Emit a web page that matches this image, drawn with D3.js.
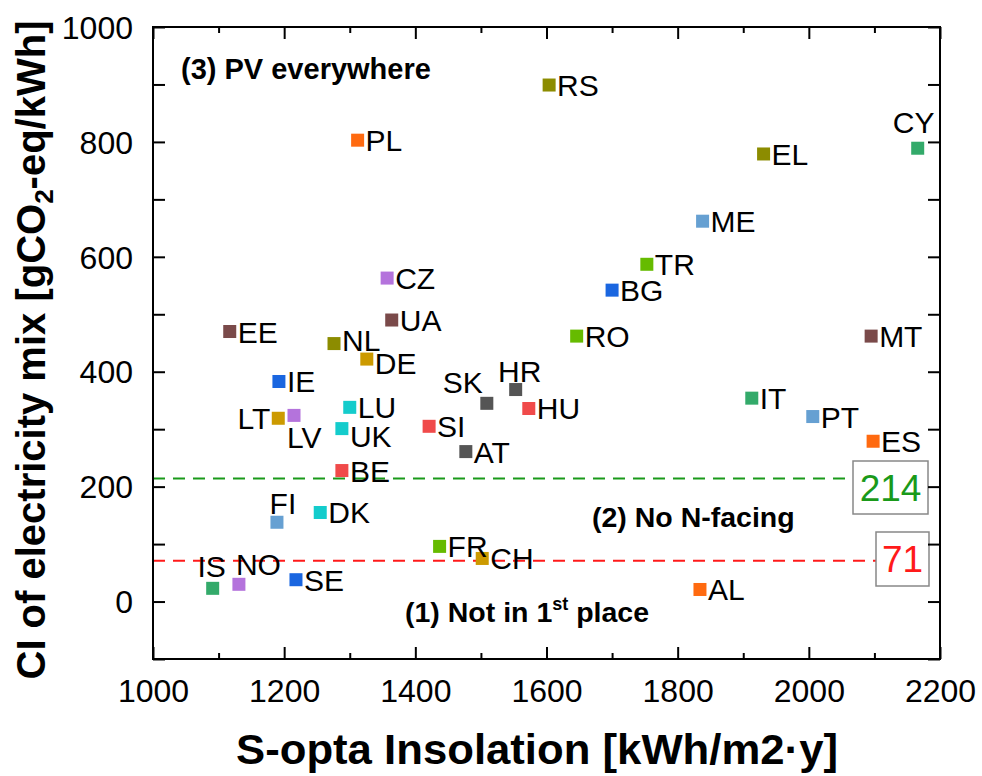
<!DOCTYPE html>
<html>
<head>
<meta charset="utf-8">
<script src="https://cdn.jsdelivr.net/npm/d3@7"></script>
<style>
  html, body { margin: 0; padding: 0; background: #fff; }
  svg { display: block; font-family: "Liberation Sans", Arial, sans-serif; }
</style>
</head>
<body>
<svg id="chart" width="982" height="776"></svg>
<script>
// Country codes, S-optimal insolation (kWh/m2·y) and carbon intensity of the electricity mix (gCO2-eq/kWh)
const countries  = ["RS","PL","CY","EL","ME","TR","BG","CZ","UA","EE","NL","DE","IE","RO","MT",
                    "SK","HR","HU","LT","LV","LU","UK","SI","AT","BE","IT","PT","ES",
                    "FI","DK","FR","CH","IS","NO","SE","AL"];
const insolation = [1604,1312,2166,1931,1838,1753,1700,1357,1364,1117,1276,1326,1192,1646,2095,
                    1509,1553,1573,1191,1215,1300,1288,1421,1477,1288,1913,2006,2098,
                    1189,1255,1437,1502,1091,1131,1218,1834];
const intensity  = [ 899, 803, 789, 779, 662, 587, 542, 563, 490, 470, 449, 422, 383, 462, 462,
                     345, 369, 336, 319, 324, 338, 301, 305, 261, 228, 354, 322, 279,
                     138, 155,  96,  75,  23,  30,  38,  21];
const colorGroup = ["olive","orange","green","olive","sky","lime","blue","violet","brown","brown","olive","gold","blue","lime","brown",
                    "grey","grey","red","gold","violet","cyan","cyan","red","grey","red","green","sky","orange",
                    "sky","cyan","lime","gold","green","violet","blue","orange"];

// Threshold values (gCO2-eq/kWh)
const thresholds = [214, 71];
const thresholdColors = ["#1a9a1a", "#ff1a1a"];

// Axis ticks
const xTicks = [1000,1200,1400,1600,1800,2000,2200];
const xMinorTicks = [1100,1300,1500,1700,1900,2100];
const yTicks = [0,200,400,600,800,1000];
const yMinorTicks = [-100,100,300,500,700,900];

const palette = {
  olive: "#8c8c00", orange: "#ff6a10", green: "#33aa6a", sky: "#66a0d2",
  lime: "#66bb00", blue: "#1a66e0", violet: "#b473dc", brown: "#7a4a4a",
  gold: "#cc9a00", grey: "#555555", red: "#f04a4a", cyan: "#14cccc"
};

// Label placement relative to each marker (default: to the right, vertically centred)
const labelPlacement = {
  CY: {anchor: "middle", dx: -4, dy: -26},
  LT: {anchor: "end",    dx: -8, dy: 0},
  LV: {anchor: "start",  dx: -7, dy: 22},
  FI: {anchor: "middle", dx: 6,  dy: -19},
  IS: {anchor: "middle", dx: -1, dy: -22},
  NO: {anchor: "start",  dx: -3, dy: -20},
  SK: {anchor: "end",    dx: -4, dy: -21},
  HR: {anchor: "middle", dx: 4,  dy: -19},
  UK: {anchor: "start",  dx: 8,  dy: 7},
  DE: {anchor: "start",  dx: 8,  dy: 4},
  NL: {anchor: "start",  dx: 8,  dy: -4}
};

const svg = d3.select("#chart");
const L = 153, R = 940, T = 27, B = 659;

const x = d3.scaleLinear().domain([1000, 2200]).range([L, R]);
const y = d3.scaleLinear().domain([-100, 1000]).range([B, T]);

// Threshold lines and value boxes
const boxes = [
  {w: 75, h: 53, cx: 890.5, cy: 487.5},
  {w: 53, h: 54, cx: 902.5, cy: 559}
];
thresholds.forEach((v, i) => {
  const b = boxes[i];
  svg.append("line")
    .attr("x1", x(1000)).attr("x2", b.cx - b.w / 2)
    .attr("y1", y(v)).attr("y2", y(v))
    .attr("stroke", thresholdColors[i]).attr("stroke-width", 2)
    .attr("stroke-dasharray", "12,8");
  svg.append("rect")
    .attr("x", b.cx - b.w / 2).attr("y", b.cy - b.h / 2)
    .attr("width", b.w).attr("height", b.h)
    .attr("fill", "#fff").attr("stroke", "#888").attr("stroke-width", 1.5);
  svg.append("text")
    .attr("x", b.cx).attr("y", b.cy + 13)
    .attr("text-anchor", "middle")
    .attr("font-size", 37)
    .attr("fill", thresholdColors[i])
    .text(v);
});

// Region annotations
svg.append("text").attr("x", 181).attr("y", 79)
  .attr("font-size", 29).attr("font-weight", "bold").text("(3) PV everywhere");
svg.append("text").attr("x", 592).attr("y", 527)
  .attr("font-size", 28.5).attr("font-weight", "bold").text("(2) No N-facing");
const t1 = svg.append("text").attr("x", 405).attr("y", 622)
  .attr("font-size", 28.5).attr("font-weight", "bold");
t1.append("tspan").text("(1) Not in 1");
t1.append("tspan").attr("font-size", 18).attr("dy", -12).text("st");
t1.append("tspan").attr("dy", 12).text(" place");

// Markers
const data = countries.map((c, i) => ({c, xv: insolation[i], yv: intensity[i], col: palette[colorGroup[i]]}));
const S = 13;
svg.append("g").selectAll("rect").data(data).join("rect")
  .attr("x", d => x(d.xv) - S / 2).attr("y", d => y(d.yv) - S / 2)
  .attr("width", S).attr("height", S)
  .attr("fill", d => d.col);

// Country labels
svg.append("g").selectAll("text").data(data).join("text")
  .attr("font-size", 30)
  .attr("fill", "#000")
  .each(function(d) {
    const p = labelPlacement[d.c] || {anchor: "start", dx: 8, dy: 0};
    d3.select(this)
      .attr("text-anchor", p.anchor)
      .attr("x", x(d.xv) + p.dx)
      .attr("y", y(d.yv) + p.dy + 11);
  })
  .text(d => d.c);

// Frame
svg.append("rect").attr("x", L).attr("y", T).attr("width", R - L).attr("height", B - T)
  .attr("fill", "none").attr("stroke", "#000").attr("stroke-width", 2);

// Axes with inward ticks on all four sides
const gx = svg.append("g").attr("transform", `translate(0,${B})`)
  .call(d3.axisBottom(x).tickValues(xTicks).tickSize(-12).tickPadding(20).tickFormat(d3.format("d")));
const gxTop = svg.append("g").attr("transform", `translate(0,${T})`)
  .call(d3.axisTop(x).tickValues(xTicks).tickSize(-12).tickFormat(""));
const gxm = svg.append("g").attr("transform", `translate(0,${B})`)
  .call(d3.axisBottom(x).tickValues(xMinorTicks).tickSize(-6).tickFormat(""));
const gxmTop = svg.append("g").attr("transform", `translate(0,${T})`)
  .call(d3.axisTop(x).tickValues(xMinorTicks).tickSize(-6).tickFormat(""));
const gy = svg.append("g").attr("transform", `translate(${L},0)`)
  .call(d3.axisLeft(y).tickValues(yTicks).tickSize(-12).tickPadding(20).tickFormat(d3.format("d")));
const gyR = svg.append("g").attr("transform", `translate(${R},0)`)
  .call(d3.axisRight(y).tickValues(yTicks).tickSize(-12).tickFormat(""));
const gym = svg.append("g").attr("transform", `translate(${L},0)`)
  .call(d3.axisLeft(y).tickValues(yMinorTicks).tickSize(-12).tickFormat(""));
const gymR = svg.append("g").attr("transform", `translate(${R},0)`)
  .call(d3.axisRight(y).tickValues(yMinorTicks).tickSize(-12).tickFormat(""));

[gx, gxTop, gxm, gxmTop, gy, gyR, gym, gymR].forEach(g => {
  g.select(".domain").remove();
  g.selectAll(".tick line").attr("stroke", "#000").attr("stroke-width", 2);
  g.selectAll(".tick text").attr("font-size", 32).attr("fill", "#000")
    .attr("font-family", "Liberation Sans, Arial, sans-serif");
});
gx.selectAll(".tick text").attr("dy", "0.71em");
gy.selectAll(".tick text").attr("dy", "0.35em");

// Axis titles
svg.append("text")
  .attr("x", 537).attr("y", 764)
  .attr("text-anchor", "middle")
  .attr("font-size", 42).attr("font-weight", "bold")
  .attr("textLength", 602).attr("lengthAdjust", "spacingAndGlyphs")
  .text("S-opta Insolation [kWh/m2·y]");

const yt = svg.append("text")
  .attr("transform", "translate(45,350) rotate(-90)")
  .attr("text-anchor", "middle")
  .attr("font-size", 40).attr("font-weight", "bold");
yt.append("tspan").text("CI of electricity mix [gCO");
yt.append("tspan").attr("font-size", 26).attr("dy", 8).text("2");
yt.append("tspan").attr("dy", -8).text("-eq/kWh]");
</script>
</body>
</html>
